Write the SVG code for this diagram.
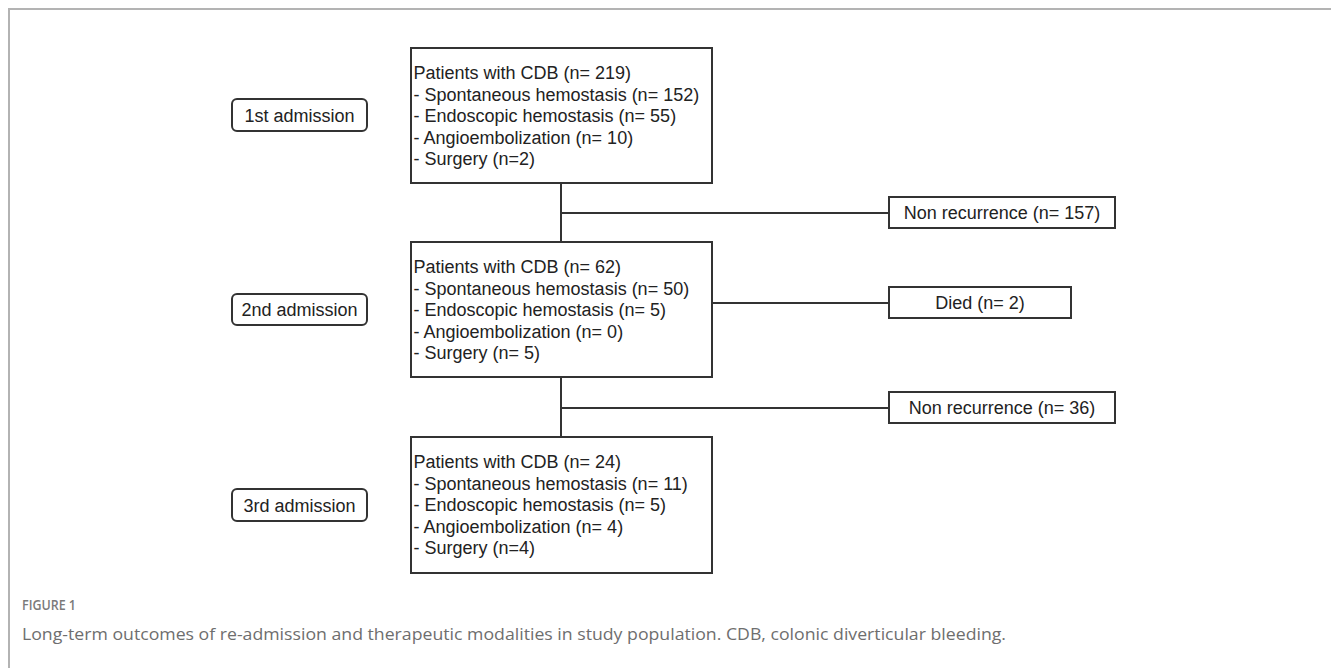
<svg xmlns="http://www.w3.org/2000/svg" width="1331" height="668" viewBox="0 0 1331 668">
<style>
.box{fill:#fff;stroke:#333;stroke-width:2}
.lbl{fill:#fff;stroke:#333;stroke-width:2}
.t{font-family:"Liberation Sans",Arial,sans-serif;font-size:18px;fill:#222}
.c{text-anchor:middle}
.ln{stroke:#333;stroke-width:2;fill:none}
.frame{stroke:#b3b3b3;stroke-width:2;fill:none}
.figt{font-family:"Open Sans",sans-serif;font-size:14px;font-weight:600;fill:#7a7a7a}
.cap{font-family:"Open Sans",sans-serif;font-size:16px;fill:#6e6e6e}
</style>
<rect width="1331" height="668" fill="#fff"/>
<path class="frame" d="M9,668 V9 H1331"/>
<g id="connectors">
<path class="ln" d="M561,183 V242"/>
<path class="ln" d="M561,213 H889"/>
<path class="ln" d="M712,303 H889"/>
<path class="ln" d="M561,377 V437"/>
<path class="ln" d="M561,408 H889"/>
</g>
<g id="label1">
<rect class="lbl" x="232" y="99" width="135" height="32" rx="5"/>
<text class="t c" x="299.5" y="121.5">1st admission</text>
</g>
<g id="label2">
<rect class="lbl" x="232" y="294" width="135" height="31" rx="5"/>
<text class="t c" x="299.5" y="316">2nd admission</text>
</g>
<g id="label3">
<rect class="lbl" x="232" y="489" width="135" height="32" rx="5"/>
<text class="t c" x="299.5" y="511.5">3rd admission</text>
</g>
<g id="box1">
<rect class="box" x="411" y="48" width="301" height="135"/>
<text class="t" x="413.5" y="79">Patients with CDB  (n= 219)</text>
<text class="t" x="413.5" y="100.5">- Spontaneous hemostasis (n= 152)</text>
<text class="t" x="413.5" y="122">- Endoscopic hemostasis (n= 55)</text>
<text class="t" x="413.5" y="143.5">- Angioembolization (n= 10)</text>
<text class="t" x="413.5" y="165">- Surgery (n=2)</text>
</g>
<g id="box2">
<rect class="box" x="411" y="242" width="301" height="135"/>
<text class="t" x="413.5" y="273">Patients with CDB (n= 62)</text>
<text class="t" x="413.5" y="294.5">- Spontaneous hemostasis (n= 50)</text>
<text class="t" x="413.5" y="316">- Endoscopic hemostasis (n= 5)</text>
<text class="t" x="413.5" y="337.5">- Angioembolization (n= 0)</text>
<text class="t" x="413.5" y="359">- Surgery (n= 5)</text>
</g>
<g id="box3">
<rect class="box" x="411" y="437" width="301" height="136"/>
<text class="t" x="413.5" y="468">Patients with CDB (n= 24)</text>
<text class="t" x="413.5" y="489.5">- Spontaneous hemostasis (n= 11)</text>
<text class="t" x="413.5" y="511">- Endoscopic hemostasis (n= 5)</text>
<text class="t" x="413.5" y="532.5">- Angioembolization (n= 4)</text>
<text class="t" x="413.5" y="554">- Surgery (n=4)</text>
</g>
<g id="nonrec1">
<rect class="box" x="889" y="197" width="226" height="31"/>
<text class="t c" x="1002" y="219">Non recurrence (n= 157)</text>
</g>
<g id="died">
<rect class="box" x="889" y="287" width="182" height="31"/>
<text class="t c" x="980" y="309">Died (n= 2)</text>
</g>
<g id="nonrec2">
<rect class="box" x="889" y="392" width="226" height="31"/>
<text class="t c" x="1002" y="414">Non recurrence (n= 36)</text>
</g>
<g id="caption">
<text class="figt" x="22" y="610" textLength="54" lengthAdjust="spacingAndGlyphs">FIGURE 1</text>
<text class="cap" x="22" y="640" textLength="984" lengthAdjust="spacingAndGlyphs">Long-term outcomes of re-admission and therapeutic modalities in study population. CDB, colonic diverticular bleeding.</text>
</g>
</svg>
